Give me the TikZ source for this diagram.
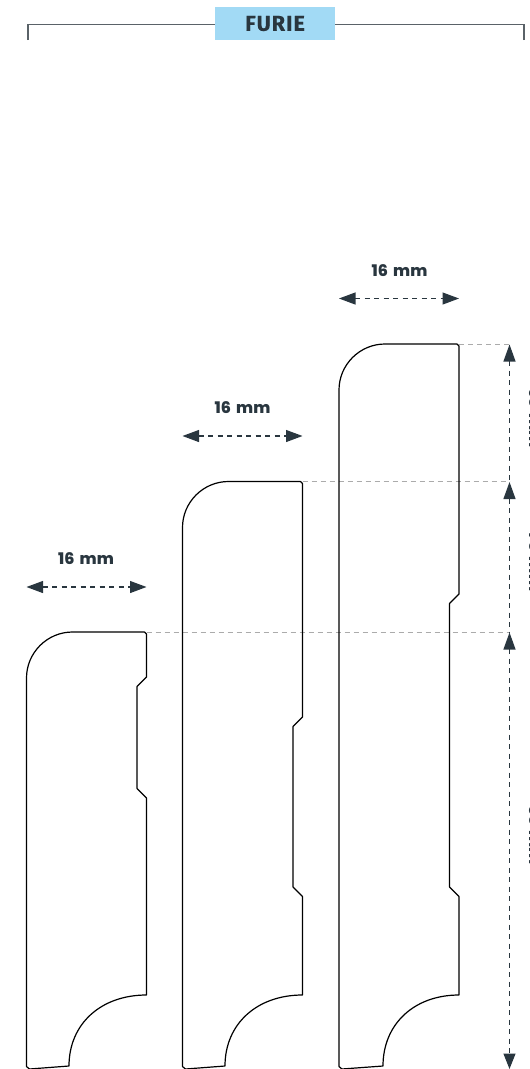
\documentclass[tikz,border=0pt]{standalone}
\usepackage{fontspec}
\setmainfont{Fira Sans}
\newfontfamily\dimfont[WordSpace=1.7]{Poppins ExtraBold}
\usetikzlibrary{arrows.meta}
\definecolor{ink}{HTML}{29363F}
\definecolor{sky}{HTML}{A2DAF5}
\definecolor{rule}{HTML}{5A6268}
\definecolor{guide}{HTML}{ABABAB}
\tikzset{
  x=1pt,y=-1pt,
  profile/.style={draw=black,line width=1.2pt,line join=round},
  dim/.style={draw=ink,line width=1.1pt,dash pattern=on 5pt off 4.5pt},
  htip/.style={{Triangle[width=12pt,length=16.5pt]}-{Triangle[width=12pt,length=16.5pt]}},
  uptip/.style={{Triangle[width=12pt,length=17pt]}-},
  guideline/.style={draw=guide,line width=0.9pt,dash pattern=on 5pt off 4pt},
  dimlabel/.style={text=ink,font=\dimfont\fontsize{16}{18}\selectfont,inner sep=0pt},
  sidelabel/.style={text=ink,font=\dimfont\fontsize{16}{18}\selectfont,inner sep=0pt,rotate=-90,anchor=base},
  titlebox/.style={fill=sky,text=ink,font=\fontsize{21.5}{24}\selectfont\bfseries,minimum width=120pt,minimum height=33pt,inner sep=0pt},
  bracket/.style={draw=rule,line width=1.2pt},
}
\newcommand{\skirting}[6]{%
  \def\xl{#1}\def\yt{#2}
  \pgfmathsetmacro\xr{\xl+120}\pgfmathsetmacro\xn{\xr-9.5}
  \pgfmathsetmacro\rr{#5}
  \pgfmathsetmacro\ra{#6}
  \path[profile] (\xl,1066.5)
    -- (\xl,\yt+\rr)
    .. controls (\xl,\yt+0.45*\rr) and (\xl+0.45*\rr,\yt) .. (\xl+\rr,\yt)
    -- (\xr-2,\yt) -- (\xr,\yt+2)
    -- (\xr,#3) -- (\xn,#3+9.5) -- (\xn,#4) -- (\xr,#4+9.5)
    -- (\xr,995)
    .. controls (\xr-0.59*\ra,995) and (\xr-\ra,1024) .. (\xr-\ra,1066)
    -- (\xl+3,1069) -- cycle;
}
\begin{document}
\begin{tikzpicture}
\useasboundingbox (0,0) rectangle (530,1069);
\clip (0,0) rectangle (530,1069);
% guides
\coordinate (g1a) at (459,344); \coordinate (g1b) at (509.5,344);
\coordinate (g2a) at (302.5,481.5); \coordinate (g2b) at (509.5,481.5);
\coordinate (g3a) at (146.5,632); \coordinate (g3b) at (509.5,632);
\draw[guideline] (g3a) -- (g3b);
\draw[guideline] (g2a) -- (g2b);
\draw[guideline] (g1a) -- (g1b);
% profiles
\skirting{339}{344}{594}{887}{46}{76}
\skirting{182.5}{481.5}{717}{887}{46}{77.5}
\skirting{26.5}{632}{677}{788.5}{46}{77.5}
% title
\coordinate (bl) at (28,40); \coordinate (blc) at (28,24.5);
\coordinate (br) at (524,40); \coordinate (brc) at (524,24.5);
\node[titlebox] (title) at (275,23.5) {\raisebox{-1.5pt}{\addfontfeatures{LetterSpace=5,FakeBold=0.6}FURIE}};
\draw[bracket] (bl) -- (blc) -- (title.west |- blc);
\draw[bracket] (br) -- (brc) -- (title.east |- brc);
% widths
\coordinate (w1a) at (26.5,587); \coordinate (w1b) at (146.5,587);
\coordinate (w2a) at (182.5,436); \coordinate (w2b) at (302.5,436);
\coordinate (w3a) at (339,298.5); \coordinate (w3b) at (459,298.5);
\draw[dim,htip] (w1a) -- (w1b);
\draw[dim,htip] (w2a) -- (w2b);
\draw[dim,htip] (w3a) -- (w3b);
\node[dimlabel] (l1) at (86,559) {16 mm};
\node[dimlabel] (l2) at (242.5,407.5) {16 mm};
\node[dimlabel] (l3) at (399.5,270.5) {16 mm};
% heights
\coordinate (h1) at (509.5,344.5); \coordinate (h2) at (509.5,482);
\coordinate (h3) at (509.5,632.5); \coordinate (h4) at (509.5,1069);
\draw[dim,uptip] (h1) -- (h2);
\draw[dim,uptip] (h2) -- (h3);
\draw[dim,{Triangle[width=12pt,length=17pt]}-{Triangle[width=12pt,length=15.5pt]}] (h3) -- (h4);
\node[sidelabel] (s1) at (529.3,418) {90 mm};
\node[sidelabel] (s2) at (529.3,562) {70 mm};
\node[sidelabel] (s3) at (529.3,835) {60 mm};
\end{tikzpicture}
\end{document}
